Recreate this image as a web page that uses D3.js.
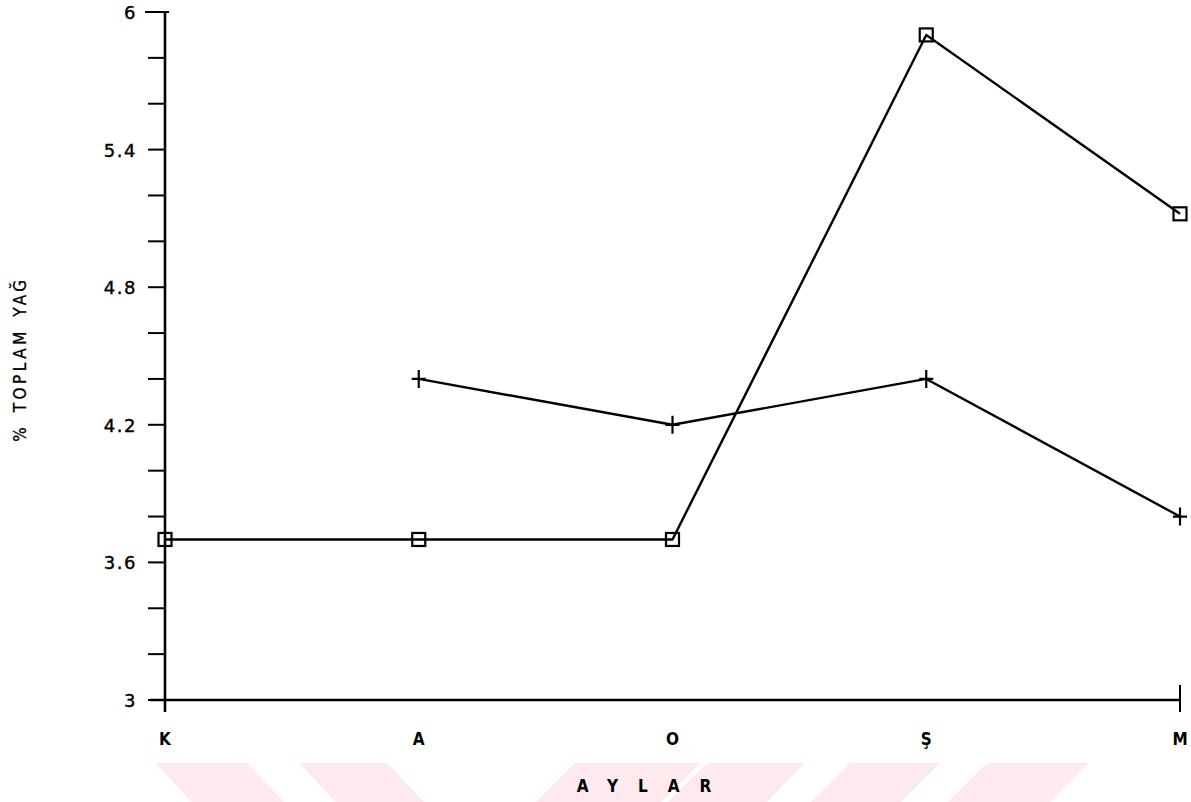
<!DOCTYPE html>
<html>
<head>
<meta charset="utf-8">
<script src="https://cdn.jsdelivr.net/npm/d3@7"></script>
<style>
  body { margin: 0; background: #fff; }
  svg { display: block; }
  text { font-family: "DejaVu Sans Condensed", "DejaVu Sans", sans-serif; fill: #000; }
</style>
</head>
<body>
<svg id="chart" width="1191" height="802"></svg>
<script>
// ########## data ##########
const months = ["K", "A", "O", "Ş", "M"];
const squareSeries = [3.7, 3.7, 3.7, 5.9, 5.12];
const plusSeries = [null, 4.4, 4.2, 4.4, 3.8];
const yTickLabels = [3, 3.6, 4.2, 4.8, 5.4, 6];
const yMinorTicks = d3.range(0, 16).map((i) => 3 + i * 0.2);

// ########## chart ##########
const svg = d3.select("#chart");

// faint watermark stripes at the bottom
const stripes = [
  [[155, 763], [247, 763], [284, 802], [192, 802]],
  [[299, 763], [387, 763], [424, 802], [336, 802]],
  [[575, 763], [700, 763], [661, 802], [536, 802]],
  [[707, 763], [805, 763], [767, 802], [668, 802]],
  [[850, 763], [940, 763], [901, 802], [811, 802]],
  [[987, 763], [1089, 763], [1050, 802], [948, 802]]
];
svg.append("g")
  .selectAll("polygon")
  .data(stripes)
  .enter()
  .append("polygon")
  .attr("points", (d) => d.map((p) => p.join(",")).join(" "))
  .attr("fill", "#fde9ee");

const x = d3.scalePoint().domain(months).range([165, 1180]);
const y = d3.scaleLinear().domain([3, 6]).range([700, 12]);

// y axis line + ticks
svg.append("line")
  .attr("x1", 165).attr("x2", 165)
  .attr("y1", y(6)).attr("y2", 712)
  .attr("stroke", "#000").attr("stroke-width", 2.6);

svg.append("g")
  .selectAll("line")
  .data(yMinorTicks)
  .enter()
  .append("line")
  .attr("x1", (d) => (d === 6 ? 145 : 148)).attr("x2", (d) => (d === 6 ? 169 : 165))
  .attr("y1", (d) => y(d)).attr("y2", (d) => y(d))
  .attr("stroke", "#000").attr("stroke-width", 2);

svg.append("g")
  .selectAll("text")
  .data(yTickLabels)
  .enter()
  .append("text")
  .attr("x", 137)
  .attr("y", (d) => y(d) + 7)
  .attr("text-anchor", "end")
  .style("font-family", "'DejaVu Sans', sans-serif")
  .attr("font-size", 18)
  .attr("letter-spacing", "1.5px")
  .attr("stroke", "#000").attr("stroke-width", 0.4)
  .text((d) => d);

// x axis line + end tick
svg.append("line")
  .attr("x1", 150).attr("x2", 1180)
  .attr("y1", y(3)).attr("y2", y(3))
  .attr("stroke", "#000").attr("stroke-width", 2.4);

svg.append("line")
  .attr("x1", x("M")).attr("x2", x("M"))
  .attr("y1", 685).attr("y2", 712)
  .attr("stroke", "#000").attr("stroke-width", 2);

svg.append("g")
  .selectAll("text")
  .data(months)
  .enter()
  .append("text")
  .attr("x", (d) => x(d))
  .attr("y", 745)
  .attr("text-anchor", "middle")
  .attr("font-size", 17)
  .attr("font-weight", "bold")
  .text((d) => d);

// axis titles
svg.append("text")
  .attr("x", 644 + 10)
  .attr("y", 792)
  .attr("text-anchor", "middle")
  .attr("font-size", 17)
  .attr("font-weight", "bold")
  .attr("letter-spacing", "20px")
  .text("AYLAR");

svg.append("text")
  .attr("transform", "translate(26,359) rotate(-90)")
  .attr("text-anchor", "middle")
  .attr("font-size", 17)
  .attr("letter-spacing", "3.5px")
  .attr("word-spacing", "3px")
  .attr("stroke", "#000").attr("stroke-width", 0.3)
  .text("% TOPLAM YAĞ");

// lines
const line = d3.line()
  .defined((d) => d.v !== null)
  .x((d) => x(d.m))
  .y((d) => y(d.v));

const sqData = months.map((m, i) => ({ m, v: squareSeries[i] }));
const plData = months.map((m, i) => ({ m, v: plusSeries[i] }));

[sqData, plData].forEach((data) => {
  svg.append("path")
    .datum(data)
    .attr("d", line)
    .attr("fill", "none")
    .attr("stroke", "#000")
    .attr("stroke-width", 2.4)
    .attr("stroke-linejoin", "round");
});

// square markers
svg.append("g")
  .selectAll("rect")
  .data(sqData)
  .enter()
  .append("rect")
  .attr("x", (d) => x(d.m) - 6.5)
  .attr("y", (d) => y(d.v) - 6.5)
  .attr("width", 13)
  .attr("height", 13)
  .attr("fill", "none")
  .attr("stroke", "#000")
  .attr("stroke-width", 2.2);

// plus markers
svg.append("g")
  .selectAll("path")
  .data(plData.filter((d) => d.v !== null))
  .enter()
  .append("path")
  .attr("d", (d) => {
    const cx = x(d.m), cy = y(d.v);
    return `M${cx - 7},${cy}H${cx + 7}M${cx},${cy - 9}V${cy + 9}`;
  })
  .attr("stroke", "#000")
  .attr("stroke-width", 2.2);
</script>
</body>
</html>
